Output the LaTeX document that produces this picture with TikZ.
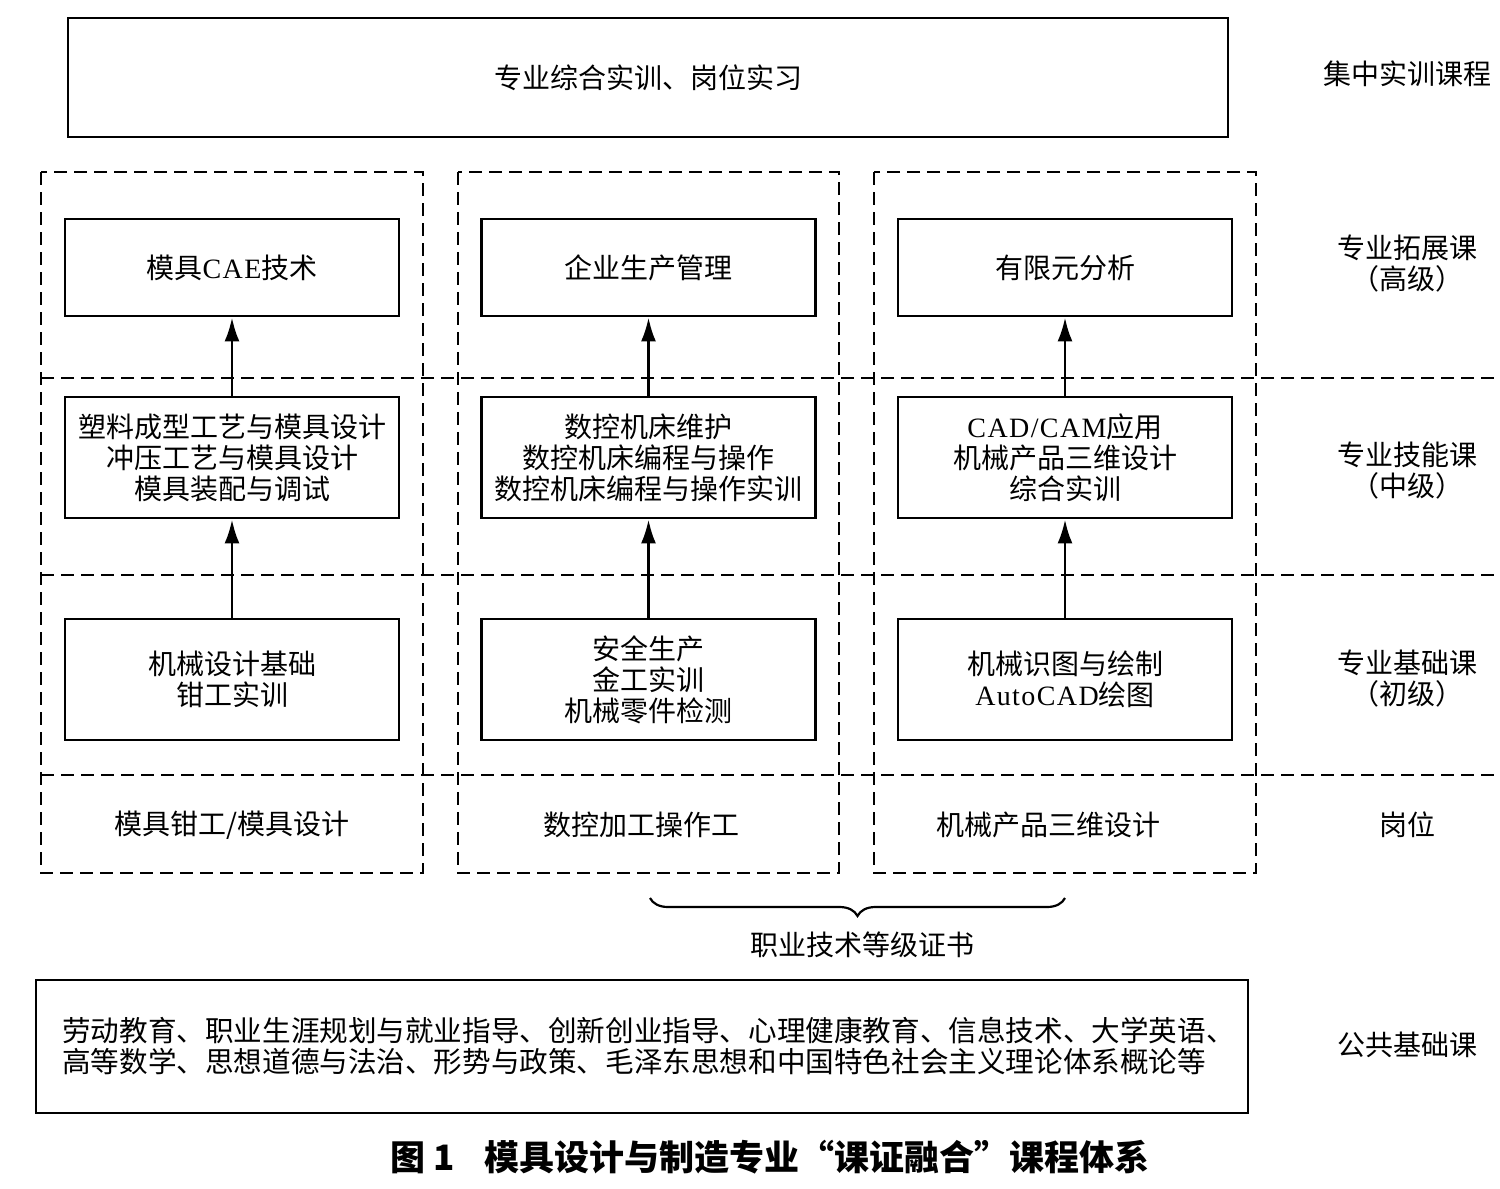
\documentclass[tikz,border=0pt]{standalone}
\usepackage{fontspec}
\setmainfont{Noto Sans CJK SC}
\newfontfamily\lat{Liberation Serif}[LetterSpace=5]
\usetikzlibrary{arrows.meta,decorations.pathreplacing}
\tikzset{
  txt/.style={font=\fontsize{28}{31}\selectfont, align=center, inner sep=0pt},
  solidbox/.style={draw, line width=2.8pt, minimum width=334pt, inner sep=0pt, txt},
  dashline/.style={line width=2.7pt, dash pattern=on 13pt off 7pt},
  upar/.style={line width=2.8pt, -{Latex[length=24pt,width=15pt]}},
}
\begin{document}
\begin{tikzpicture}[x=1pt,y=-1pt]
\useasboundingbox (0,0) rectangle (1500,1189);
\fill[white] (0,0) rectangle (1500,1189);

% top box
\node[draw, line width=2.8pt, minimum width=1160pt, minimum height=119pt, txt] (top) at (648,77.5) {专业综合实训、岗位实习};
\node[txt] (ltop) at (1407,74) {集中实训课程};

% dashed columns
\draw[dashline] (41,172) rectangle (423,873);
\draw[dashline] (458,172) rectangle (839,873);
\draw[dashline] (874,172) rectangle (1256,873);
\coordinate (h1a) at (41,378); \coordinate (h1b) at (1500,378);
\coordinate (h2a) at (41,575); \coordinate (h2b) at (1500,575);
\coordinate (h3a) at (41,775); \coordinate (h3b) at (1500,775);
\draw[dashline] (h1a) -- (h1b);
\draw[dashline] (h2a) -- (h2b);
\draw[dashline] (h3a) -- (h3b);

% row 1
\node[solidbox, minimum height=97pt] (a1) at (232,267.5) {模具{\lat CAE}技术};
\node[solidbox, minimum height=97pt] (b1) at (648.5,267.5) {企业生产管理};
\node[solidbox, minimum height=97pt] (c1) at (1065,267.5) {有限元分析};
% row 2
\node[solidbox, minimum height=121pt] (a2) at (232,457.5) {塑料成型工艺与模具设计\\冲压工艺与模具设计\\模具装配与调试};
\node[solidbox, minimum height=121pt] (b2) at (648.5,457.5) {数控机床维护\\数控机床编程与操作\\数控机床编程与操作实训};
\node[solidbox, minimum height=121pt] (c2) at (1065,457.5) {{\lat CAD/CAM}应用\\机械产品三维设计\\综合实训};
% row 3
\node[solidbox, minimum height=121pt] (a3) at (232,679.5) {机械设计基础\\钳工实训};
\node[solidbox, minimum height=121pt] (b3) at (648.5,679.5) {安全生产\\金工实训\\机械零件检测};
\node[solidbox, minimum height=121pt] (c3) at (1065,679.5) {机械识图与绘制\\{\lat AutoCAD}绘图};

% arrows
\draw[upar] (a3.north) -- (a2.south);
\draw[upar] (a2.north) -- (a1.south);
\draw[upar] (b3.north) -- (b2.south);
\draw[upar] (b2.north) -- (b1.south);
\draw[upar] (c3.north) -- (c2.south);
\draw[upar] (c2.north) -- (c1.south);

% posts
\node[txt] (p1) at (232,825) {模具钳工/模具设计};
\node[txt] (p2) at (641,825) {数控加工操作工};
\node[txt] (p3) at (1048,825) {机械产品三维设计};

% right labels
\node[txt] (l1) at (1407,264) {专业拓展课\\（高级）};
\node[txt] (l2) at (1407,471) {专业技能课\\（中级）};
\node[txt] (l3) at (1407,679) {专业基础课\\（初级）};
\node[txt] (l4) at (1407,825) {岗位};

% brace
\coordinate (bl) at (650,898);
\coordinate (br) at (1065,898);
\draw[line width=2.2pt, decorate, decoration={brace, amplitude=18pt}] (br) -- (bl);
\node[txt] (cert) at (862,945) {职业技术等级证书};

% public courses
\node[draw, line width=2.8pt, minimum width=1212pt, minimum height=133pt, inner sep=0pt] (pub) at (642,1046.5) {};
\node[txt, font=\fontsize{28.6}{31}\selectfont, align=left, anchor=west] (pubtxt) at (62,1046.5) {劳动教育、职业生涯规划与就业指导、创新创业指导、心理健康教育、信息技术、大学英语、\\高等数学、思想道德与法治、形势与政策、毛泽东思想和中国特色社会主义理论体系概论等};
\node[txt] (l5) at (1407,1045) {公共基础课};

% caption
\node[font=\fontsize{35}{38}\selectfont\bfseries, inner sep=0pt] (cap) at (770,1157) {图 1\hspace{30pt}模具设计与制造专业“课证融合”课程体系};
\end{tikzpicture}
\end{document}
